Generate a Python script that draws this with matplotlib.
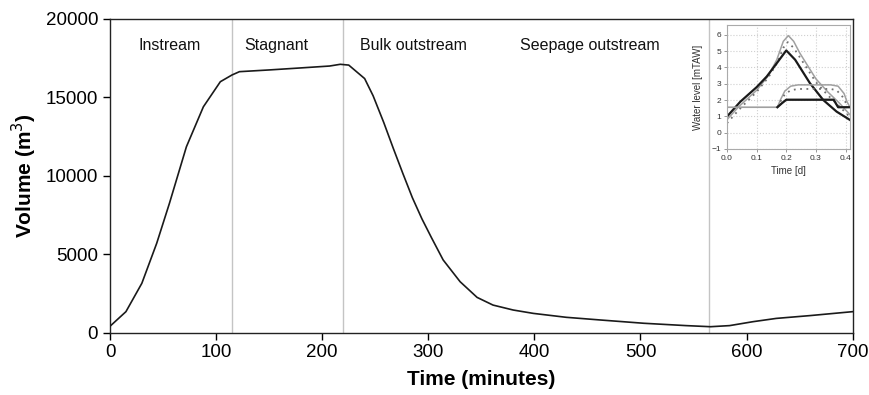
import matplotlib
matplotlib.use('Agg')
import matplotlib.pyplot as plt

plt.rcParams['font.family'] = ['Liberation Sans', 'DejaVu Sans']

# main curve: volume in the reservoir over time
time_min = [0, 15, 30, 44, 56, 72, 88, 104, 115, 122, 150, 180, 207, 217, 225,
            240, 248, 258, 267, 276, 285, 294, 303, 314, 330, 346, 361, 380,
            399, 430, 462, 503, 543, 566, 584, 606, 628, 660, 700]
volume = [400, 1330, 3140, 5690, 8240, 11850, 14400, 16000, 16430, 16640, 16750,
          16880, 17000, 17110, 17060, 16200, 15100, 13400, 11750, 10150, 8600,
          7250, 6050, 4630, 3240, 2240, 1750, 1435, 1220, 970, 800, 590, 440,
          370, 440, 690, 900, 1080, 1330]

phase_bounds = [115, 220, 565]
phase_names = ['Instream', 'Stagnant', 'Bulk outstream', 'Seepage outstream']
phase_label_t = [56, 157, 286, 452]

# inset: water level curves
t_black = [0.0, 0.045, 0.1, 0.134, 0.168, 0.2, 0.23, 0.28, 0.325, 0.37, 0.415]
h_black = [0.99, 1.9, 2.79, 3.44, 4.26, 5.04, 4.47, 3.03, 2.0, 1.29, 0.78]
t_gray = [0.0, 0.04, 0.1, 0.14, 0.168, 0.19, 0.207, 0.225, 0.246, 0.3, 0.34, 0.38, 0.415]
h_gray = [0.8, 1.6, 2.6, 3.5, 4.47, 5.6, 5.95, 5.6, 4.87, 3.3, 2.5, 1.8, 1.1]
t_dot = [0.0, 0.04, 0.1, 0.14, 0.17, 0.19, 0.205, 0.225, 0.25, 0.3, 0.34, 0.38, 0.415]
h_dot = [0.58, 1.4, 2.5, 3.4, 4.3, 5.2, 5.55, 5.2, 4.5, 3.1, 2.3, 1.6, 0.95]
t_bstep = [0.0, 0.17, 0.185, 0.2, 0.36, 0.375, 0.415]
h_bstep = [1.56, 1.56, 1.8, 2.02, 2.02, 1.56, 1.56]
t_gstep = [0.17, 0.18, 0.195, 0.215, 0.24, 0.35, 0.375, 0.395, 0.405, 0.415]
h_gstep = [1.56, 2.0, 2.55, 2.85, 2.93, 2.93, 2.85, 2.4, 1.9, 1.56]
t_dstep = [0.17, 0.18, 0.195, 0.215, 0.24, 0.35, 0.37, 0.39, 0.405]
h_dstep = [1.56, 1.9, 2.35, 2.6, 2.68, 2.68, 2.6, 2.2, 1.7]

fig = plt.figure(figsize=(8.69, 3.95), dpi=100)
ax = fig.add_axes([0.1266, 0.1582, 0.8546, 0.7937])

for b in phase_bounds:
    ax.axvline(b, color='#c4c4c4', lw=1.0, zorder=1)
ax.plot(time_min, volume, color='#1a1a1a', lw=1.2, zorder=3)

for name, t in zip(phase_names, phase_label_t):
    ax.text(t, 18300, name, ha='center', va='center', fontsize=11.5, color='#111111')

ax.set_xlim(0, 700)
ax.set_ylim(0, 20000)
ax.set_xticks(range(0, 701, 100))
ax.set_yticks(range(0, 20001, 5000))
ax.tick_params(labelsize=13.5, length=5, width=1, direction='out', top=False, right=False)
ax.set_xlabel('Time (minutes)', fontsize=15, fontweight='bold', labelpad=6)
ax.set_ylabel('Volume (m$^3$)', fontsize=15, fontweight='bold', labelpad=5)
for s in ax.spines.values():
    s.set_linewidth(1.0)
    s.set_color('#222222')

# inset
ia = fig.add_axes([0.8366, 0.6228, 0.1415, 0.3139])
ia.grid(True, color='#cfcfcf', ls=':', lw=0.8)
ia.plot(t_gray, h_gray, color='#a0a0a0', lw=1.1)
ia.plot(t_dot, h_dot, color='#707070', lw=1.3, ls=(0, (1, 2.5)))
ia.plot(t_black, h_black, color='#1a1a1a', lw=1.6)
ia.plot(t_gstep, h_gstep, color='#a0a0a0', lw=1.1)
ia.plot(t_dstep, h_dstep, color='#707070', lw=1.3, ls=(0, (1, 2.5)))
ia.plot(t_bstep, h_bstep, color='#a0a0a0', lw=1.2)
ia.plot(t_bstep[1:], h_bstep[1:], color='#1a1a1a', lw=1.6)
ia.set_xlim(0, 0.415)
ia.set_ylim(-1, 6.6)
ia.set_xticks([0.0, 0.1, 0.2, 0.3, 0.4])
ia.set_xticklabels(['0.0', '0.1', '0.2', '0.3', '0.4'])
ia.set_yticks(range(-1, 7))
ia.tick_params(labelsize=6, length=2, width=0.6, color='#888888', labelcolor='#333333', pad=2)
ia.set_xlabel('Time [d]', fontsize=7, color='#333333', labelpad=3)
ia.set_ylabel('Water level [mTAW]', fontsize=7, color='#333333', labelpad=6)
for s in ia.spines.values():
    s.set_color('#aaaaaa')
    s.set_linewidth(0.8)

fig.savefig('out.png', dpi=100)
